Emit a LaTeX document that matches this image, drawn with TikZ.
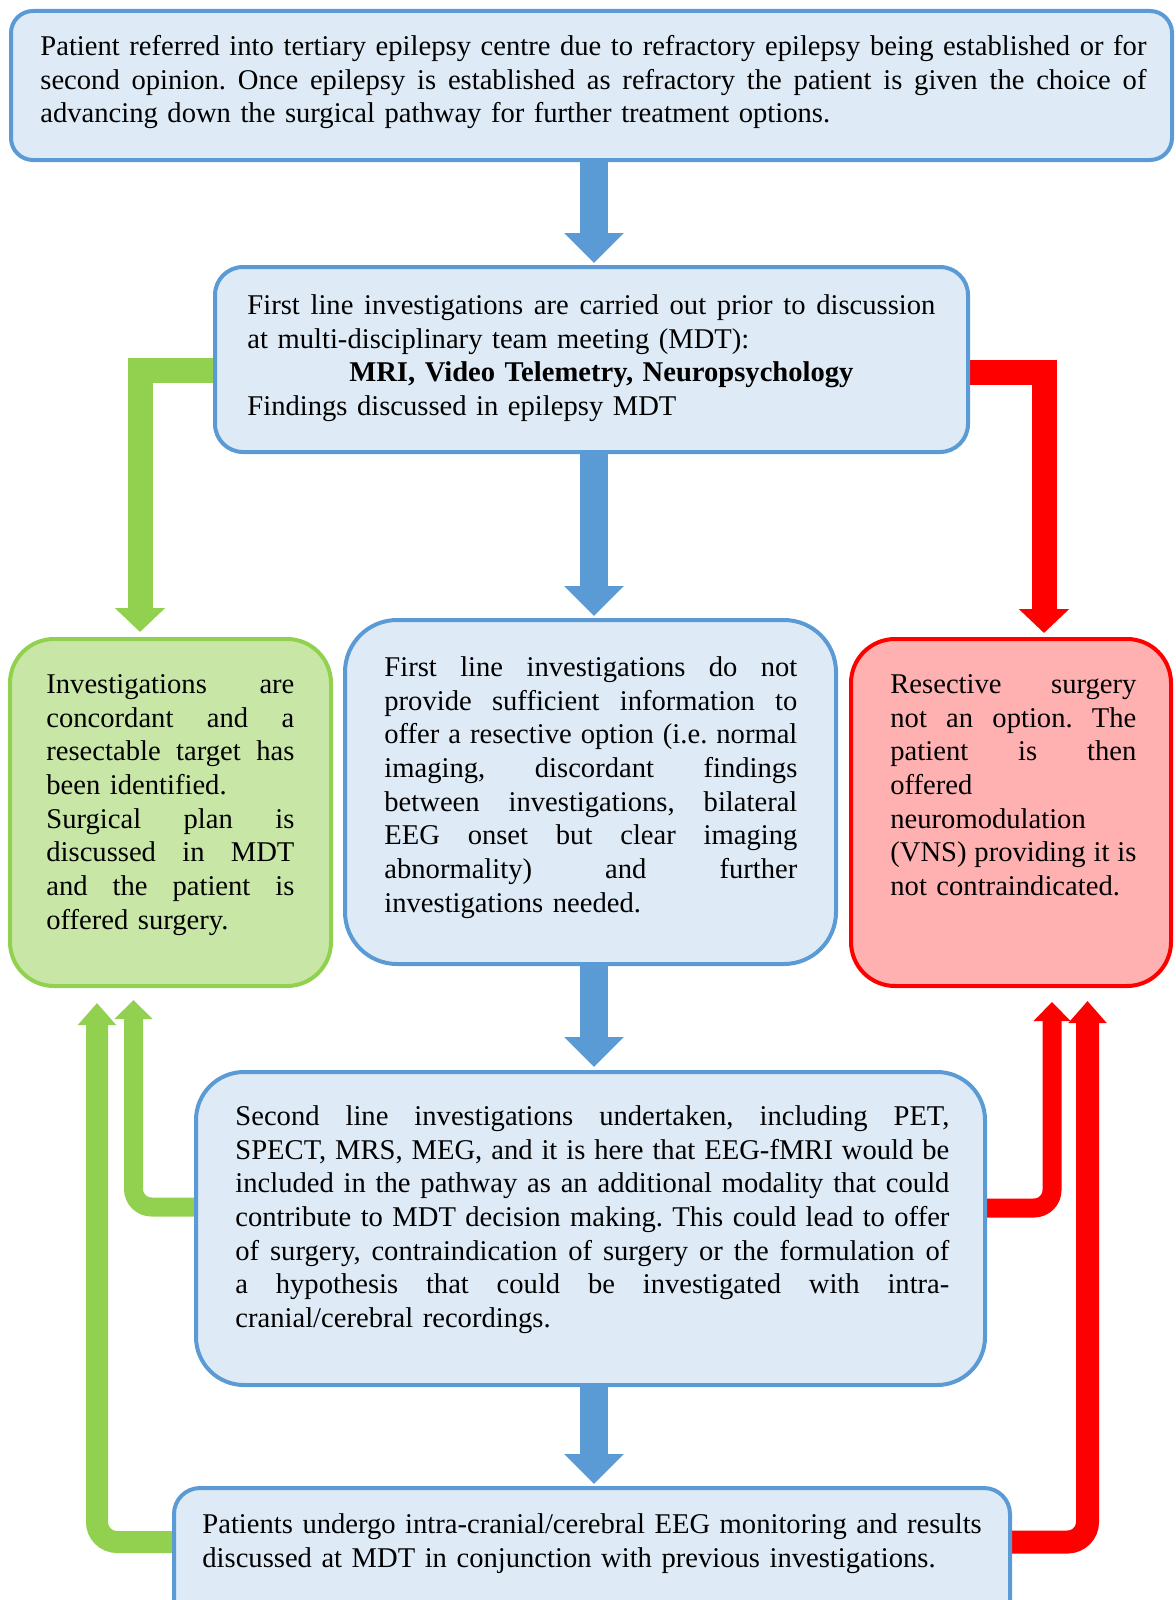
\documentclass[tikz,border=0pt]{standalone}
\usepackage{fontspec}
\setmainfont{Liberation Serif}
\usetikzlibrary{arrows.meta,backgrounds}
\setlength\parindent{0pt}
\frenchspacing
\definecolor{bfill}{HTML}{DEEBF7}
\definecolor{bline}{HTML}{5B9BD5}
\definecolor{gfill}{HTML}{C8E6A6}
\definecolor{gline}{HTML}{92D050}
\definecolor{rfill}{HTML}{FFB0B0}
\definecolor{rline}{HTML}{FF0000}
\newcommand\fs{\fontsize{14.3pt}{16.85pt}\selectfont\frenchspacing}
\newcommand\jl[1]{\leavevmode\hbox to \tw{\spaceskip=0.25em plus 1fil minus 0.08em #1}}
\begin{document}
\begin{tikzpicture}[x=0.5pt,y=-0.5pt,
  boxbase/.style={line width=2pt, inner sep=0pt, outer sep=0pt, rectangle},
  bluebox/.style={boxbase, draw=bline, fill=bfill},
  greenbox/.style={boxbase, draw=gline, fill=gfill},
  redbox/.style={boxbase, draw=rline, fill=rfill},
  txt/.style={anchor=north west, inner sep=0pt, font=\fs, align=left},
  bluearrow/.style={draw=bline, line width=14pt, -{Triangle[width=29pt,length=15pt]}},
  greentop/.style={draw=gline, line width=12.5pt, line join=miter, -{Triangle[width=24.5pt,length=12pt]}},
  redtop/.style={draw=rline, line width=12.5pt, line join=miter, -{Triangle[width=24.5pt,length=12pt]}},
  ]
\useasboundingbox (0,0) rectangle (1176,1600);

% boxes
\node[bluebox, minimum width=580.5pt, minimum height=74.5pt, rounded corners=11pt] (b1) at (591.5,85.5) {};
\node[bluebox, minimum width=376.5pt, minimum height=92.5pt, rounded corners=14pt] (b2) at (591.5,359.5) {};
\node[greenbox, minimum width=160.5pt, minimum height=173.5pt, rounded corners=22pt] (gbox) at (170.5,812.5) {};
\node[bluebox, minimum width=245.5pt, minimum height=172pt, rounded corners=26pt] (mbox) at (590.5,792) {};
\node[redbox, minimum width=160pt, minimum height=173.5pt, rounded corners=22pt] (rbox) at (1011,812.5) {};
\node[bluebox, minimum width=394.5pt, minimum height=156.5pt, rounded corners=24pt] (b4) at (590.5,1228.5) {};
\node[bluebox, minimum width=418pt, minimum height=76pt, rounded corners=13pt] (b5) at (592,1564) {};

% helper coordinates
\coordinate (cx) at (594,0);
\coordinate (gy1) at (0,370);
\coordinate (gk1) at (140,0);
\coordinate (ry1) at (0,372);
\coordinate (rk1) at (1044,0);
\coordinate (gy2) at (0,1207);
\coordinate (gk2) at (133.5,0);
\coordinate (gy3) at (0,1542);
\coordinate (gk3) at (97,0);
\coordinate (ry2) at (0,1208);
\coordinate (rk2) at (1052,0);
\coordinate (ry3) at (0,1542);
\coordinate (rk3) at (1087.5,0);

\begin{scope}[on background layer]
\draw[bluearrow, shorten >=2pt] (b1.south -| cx) -- (b2.north -| cx);
\draw[bluearrow, shorten >=2pt] (b2.south -| cx) -- (mbox.north -| cx);
\draw[bluearrow, shorten >=2.5pt] (mbox.south -| cx) -- (b4.north -| cx);
\draw[bluearrow, shorten >=2pt] (b4.south -| cx) -- (b5.north -| cx);
\draw[greentop, shorten >=3.5pt] (b2.west |- gy1) -| (gk1 |- gbox.north);
\draw[redtop, shorten >=3pt] (b2.east |- ry1) -| (rk1 |- rbox.north);
\draw[draw=gline, line width=9.5pt, rounded corners=9pt, -{Triangle[width=18.5pt,length=9.5pt]}, shorten >=7pt]
  (b4.west |- gy2) -| (gk2 |- gbox.south);
\draw[draw=gline, line width=11pt, rounded corners=10pt, -{Triangle[width=18.5pt,length=11pt]}, shorten >=8.5pt]
  (b5.west |- gy3) -| (gk3 |- gbox.south);
\draw[draw=rline, line width=9.5pt, rounded corners=9pt, -{Triangle[width=18pt,length=9.5pt]}, shorten >=8pt]
  (b4.east |- ry2) -| (rk2 |- rbox.south);
\draw[draw=rline, line width=11.5pt, rounded corners=10pt, -{Triangle[width=18.5pt,length=11pt]}, shorten >=7.5pt]
  (b5.east |- ry3) -| (rk3 |- rbox.south);
\end{scope}

% texts
\def\tw{553pt}
\node[txt, text width=553pt] (t1) at (40,31.4) {\strut\jl{Patient referred into tertiary epilepsy centre due to refractory epilepsy being established or for}\\
\jl{second opinion. Once epilepsy is established as refractory the patient is given the choice of}\\
advancing down the surgical pathway for further treatment options.};

\def\tw{344pt}
\node[txt, text width=344pt] (t2) at (247,290.4) {\strut\jl{First line investigations are carried out prior to discussion}\\
at multi-disciplinary team meeting (MDT):\\
\leavevmode\hbox to \tw{\hfil\hspace{10pt}\bfseries MRI, Video Telemetry, Neuropsychology\hfil}\\
Findings discussed in epilepsy MDT};

\def\tw{124pt}
\node[txt, text width=124pt] (t3) at (46,669.4) {\strut\jl{Investigations are}\\
\jl{concordant and a}\\
\jl{resectable target has}\\
been identified.\\
\jl{Surgical plan is}\\
\jl{discussed in MDT}\\
\jl{and the patient is}\\
offered surgery.};

\def\tw{206.5pt}
\node[txt, text width=206.5pt] (t4) at (384,652.4) {\strut\jl{First line investigations do not}\\
\jl{provide sufficient information to}\\
\jl{offer a resective option (i.e. normal}\\
\jl{imaging, discordant findings}\\
\jl{between investigations, bilateral}\\
\jl{EEG onset but clear imaging}\\
\jl{abnormality) and further}\\
investigations needed.};

\def\tw{123pt}
\node[txt, text width=123pt] (t5) at (890,669.4) {\strut\jl{Resective surgery}\\
\jl{not an option. The}\\
\jl{patient is then}\\
offered\\
neuromodulation\\
\jl{(VNS) providing it is}\\
not contraindicated.};

\def\tw{357pt}
\node[txt, text width=357pt] (t6) at (235,1101.4) {\strut\jl{Second line investigations undertaken, including PET,}\\
\jl{SPECT, MRS, MEG, and it is here that EEG-fMRI would be}\\
\jl{included in the pathway as an additional modality that could}\\
\jl{contribute to MDT decision making. This could lead to offer}\\
\jl{of surgery, contraindication of surgery or the formulation of}\\
\jl{a hypothesis that could be investigated with intra-}\\
cranial/cerebral recordings.};

\node[txt, text width=400pt] (t7) at (202,1509.4) {\strut Patients undergo intra-cranial/cerebral EEG monitoring and results\\
discussed at MDT in conjunction with previous investigations.};
\end{tikzpicture}
\end{document}
